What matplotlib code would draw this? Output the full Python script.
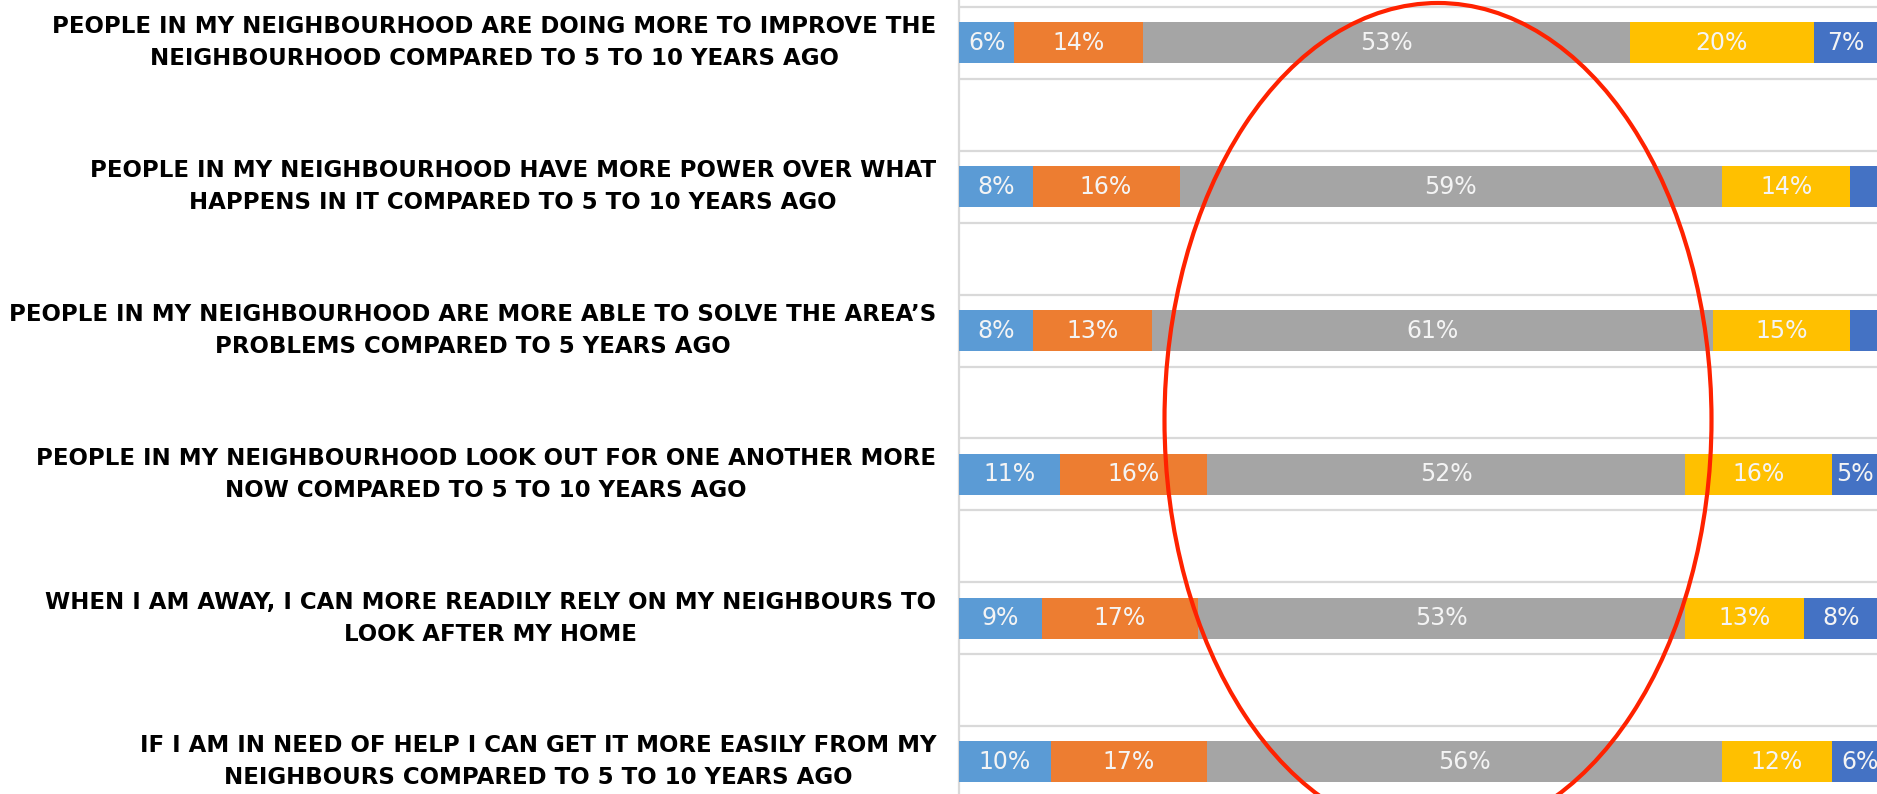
import numpy as np
import matplotlib
matplotlib.use("Agg")
import matplotlib.pyplot as plt
from matplotlib.patches import Ellipse

# statements, top to bottom
statements = [
    "PEOPLE IN MY NEIGHBOURHOOD ARE DOING MORE TO IMPROVE THE\nNEIGHBOURHOOD COMPARED TO 5 TO 10 YEARS AGO",
    "PEOPLE IN MY NEIGHBOURHOOD HAVE MORE POWER OVER WHAT\nHAPPENS IN IT COMPARED TO 5 TO 10 YEARS AGO",
    "PEOPLE IN MY NEIGHBOURHOOD ARE MORE ABLE TO SOLVE THE AREA\u2019S\nPROBLEMS COMPARED TO 5 YEARS AGO",
    "PEOPLE IN MY NEIGHBOURHOOD LOOK OUT FOR ONE ANOTHER MORE\nNOW COMPARED TO 5 TO 10 YEARS AGO",
    "WHEN I AM AWAY, I CAN MORE READILY RELY ON MY NEIGHBOURS TO\nLOOK AFTER MY HOME",
    "IF I AM IN NEED OF HELP I CAN GET IT MORE EASILY FROM MY\nNEIGHBOURS COMPARED TO 5 TO 10 YEARS AGO",
]

# response shares (%) per segment, left to right
seg1 = [6, 8, 8, 11, 9, 10]
seg2 = [14, 16, 13, 16, 17, 17]
seg3 = [53, 59, 61, 52, 53, 56]
seg4 = [20, 14, 15, 16, 13, 12]
seg5 = [7, 3, 3, 5, 8, 6]

colors = ["#5B9BD5", "#ED7D31", "#A5A5A5", "#FFC000", "#4472C4"]

W, H, DPI = 1877, 794, 100
fig = plt.figure(figsize=(W / DPI, H / DPI), dpi=DPI)

# axes: left spine at px 959, 100% at right edge, one blank slot between rows
ax = fig.add_axes([959 / W, 0, (1878 - 959) / W, 1])
slot = 71.9
top_px = 7
ax.set_xlim(0, 100)
ax.set_ylim(-0.5 + (H - top_px) / slot, -0.5 - top_px / slot)

ypos = np.arange(len(statements)) * 2
left = np.zeros(len(statements))
for vals, c in zip([seg1, seg2, seg3, seg4, seg5], colors):
    vals = np.array(vals, dtype=float)
    ax.barh(ypos, vals, left=left, height=0.57, color=c, zorder=3)
    for y, l, v in zip(ypos, left, vals):
        if v >= 5:
            ax.text(l + v / 2, y, f"{int(v)}%", ha="center", va="center",
                    color="#f4f4f4", fontsize=17,
                    family=["Liberation Sans Narrow", "DejaVu Sans"], zorder=4)
    left += vals

for g in np.arange(-0.5, 11, 1.0):
    ax.axhline(g, color="#d9d9d9", lw=1.6, zorder=1)

for y, s in zip(ypos, statements):
    ax.text(-2.5, y, s, ha="right", va="center", multialignment="center",
            fontsize=16.5, fontweight="bold", color="black", linespacing=1.5,
            family="DejaVu Sans")

ax.set_xticks([])
ax.set_yticks([])
for side in ["top", "right", "bottom"]:
    ax.spines[side].set_visible(False)
ax.spines["left"].set_color("#d9d9d9")
ax.spines["left"].set_linewidth(1.6)

# red highlight ellipse, in figure fractions
ell = Ellipse((1438 / W, 1 - 420 / H), 547 / W, 834 / H,
              transform=fig.transFigure, fill=False, edgecolor="#ff2200", lw=3)
fig.add_artist(ell)

fig.savefig("out.png", dpi=DPI)
